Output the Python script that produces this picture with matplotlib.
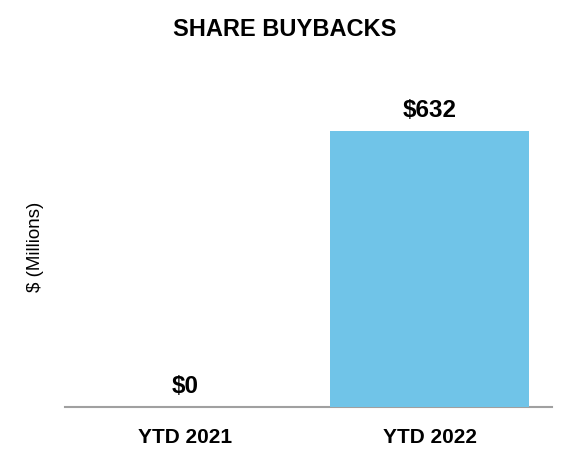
import matplotlib
matplotlib.use('Agg')
import matplotlib.pyplot as plt

categories = ['YTD 2021', 'YTD 2022']
values = [0, 632]
labels = ['$0', '$632']

plt.rcParams['font.family'] = ['Liberation Sans', 'DejaVu Sans']

fig = plt.figure(figsize=(5.72, 4.66), dpi=100)
W, H = 572, 466
ax = fig.add_axes([65 / W, 1 - 407 / H, (552 - 65) / W, (407 - 57.6) / H])

x = list(range(len(categories)))
ax.bar(x, values, width=0.816, color='#70C4E8', zorder=3)

for xi, v, lab in zip(x, values, labels):
    ax.annotate(lab, (xi, v), xytext=(0, 10), textcoords='offset points',
                ha='center', va='baseline', fontsize=17.5, fontweight='bold', color='black')

ax.set_xlim(-0.49, 1.5)
ax.set_ylim(0, 800)
ax.set_xticks(x)
ax.set_xticklabels(categories, fontsize=15, fontweight='bold')
ax.tick_params(axis='x', length=0, pad=15)
ax.set_yticks([])

for s in ['top', 'right', 'left']:
    ax.spines[s].set_visible(False)
ax.spines['bottom'].set_color('#A0A0A0')
ax.spines['bottom'].set_linewidth(1.5)

fig.text(285 / W, 1 - 30 / H, 'SHARE BUYBACKS', ha='center', va='center', fontsize=17, fontweight='bold')
fig.text(35 / W, 1 - 247 / H, '$ (Millions)', ha='center', va='center', rotation=90, fontsize=13.5)

fig.savefig('out.png', dpi=100)
